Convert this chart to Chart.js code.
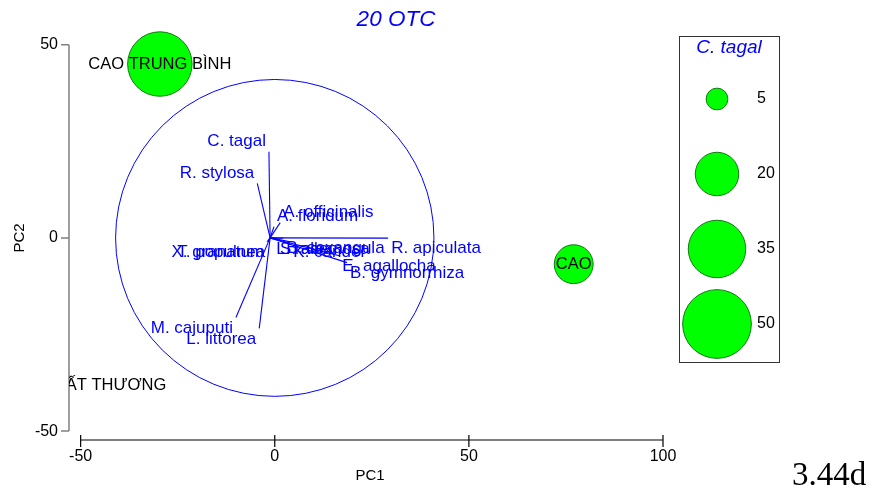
<!DOCTYPE html>
<html>
<head>
<meta charset="utf-8">
<script src="https://cdn.jsdelivr.net/npm/chart.js@4"></script>
<style>
  body { margin: 0; background: #fff; }
</style>
</head>
<body>
<canvas id="pcaChart" width="873" height="494"></canvas>
<script>
const chartTitle = '20 OTC';
const sizeVariable = 'C. tagal';
const cornerNote = '3.44d';

// site groups (bubble = C. tagal abundance)
const groupLabels = ['CAO TRUNG BÌNH', 'CAO', 'BẤT THƯƠNG'];
const groupPC1 = [-29.6, 77.0, -42.3];
const groupPC2 = [45.0, -6.8, -38.1];
const groupTagal = [44, 16, 0];

const legendSizes = [5, 20, 35, 50];

// species vectors (drawn from the vector origin)
const vectorOrigin = [-1.2, 0];
const speciesNames = ['C. tagal', 'R. stylosa', 'A. floridum', 'A. officinalis', 'R. apiculata',
    'E. agallocha', 'B. gymnorrhiza', 'L. racemosa', 'S. alba', 'K. candel', 'B. sexangula',
    'M. cajuputi', 'L. littorea', 'T. populnea', 'X. granatum'];
const speciesPC1 = [-0.3, -3.3, 1.0, 2.6, 30.4, 17.8, 19.8, 0.8, 1.8, 5.2, 3.4, -8.8, -2.8, -0.5, -0.8];
const speciesPC2 = [22.3, 14.1, 2.9, 3.95, -0.05, -4.6, -6.4, -0.2, -0.2, -1.0, -0.1, -20.6, -23.4, -1.0, -1.0];

const xTicks = [-50, 0, 50, 100];
const yTicks = [-50, 0, 50];
const circleRadius = 41;

const blue = '#0000ff';
const fontName = "'Liberation Sans', Arial, sans-serif";

function bubbleRadius(v) {
    return 4.86 * Math.sqrt(v);
}

let datasets = [];
datasets.push({
    type: 'bubble',
    data: groupLabels.map(function(l, i) {
        return {x: groupPC1[i], y: groupPC2[i], r: bubbleRadius(groupTagal[i])};
    }),
    backgroundColor: '#00ff00',
    borderColor: '#107a10',
    borderWidth: 1,
    clip: false,
});
speciesNames.forEach(function(name, i) {
    datasets.push({
        type: 'scatter',
        data: [
            {x: vectorOrigin[0], y: vectorOrigin[1]},
            {x: vectorOrigin[0] + speciesPC1[i], y: vectorOrigin[1] + speciesPC2[i]}
        ],
        showLine: true,
        borderColor: blue,
        borderWidth: 1.1,
        pointRadius: 0,
        clip: false,
    });
});

const overlay = {
    id: 'overlay',
    beforeDatasetsDraw(chart) {
        const ctx = chart.ctx;
        const x = chart.scales.x, y = chart.scales.y;
        const area = chart.chartArea;
        ctx.save();

        // correlation circle
        const cx = x.getPixelForValue(0), cy = y.getPixelForValue(0);
        const rx = x.getPixelForValue(circleRadius) - cx;
        const ry = cy - y.getPixelForValue(circleRadius);
        ctx.strokeStyle = blue;
        ctx.lineWidth = 1;
        ctx.beginPath();
        ctx.ellipse(cx, cy, rx, ry, 0, 0, 2 * Math.PI);
        ctx.stroke();

        // y axis
        ctx.strokeStyle = '#808080';
        ctx.lineWidth = 1.5;
        ctx.beginPath();
        ctx.moveTo(area.left, y.getPixelForValue(yTicks[yTicks.length - 1]));
        ctx.lineTo(area.left, y.getPixelForValue(yTicks[0]));
        yTicks.forEach(function(t) {
            const py = y.getPixelForValue(t);
            ctx.moveTo(area.left - 8, py);
            ctx.lineTo(area.left, py);
        });
        ctx.stroke();
        ctx.fillStyle = '#000';
        ctx.font = '16px ' + fontName;
        ctx.textAlign = 'right';
        ctx.textBaseline = 'middle';
        yTicks.forEach(function(t) {
            ctx.fillText(String(t), area.left - 11, y.getPixelForValue(t));
        });

        // x axis
        ctx.strokeStyle = '#000';
        ctx.lineWidth = 1.2;
        ctx.beginPath();
        ctx.moveTo(x.getPixelForValue(xTicks[0]), area.bottom);
        ctx.lineTo(x.getPixelForValue(xTicks[xTicks.length - 1]), area.bottom);
        xTicks.forEach(function(t) {
            const px = x.getPixelForValue(t);
            ctx.moveTo(px, area.bottom - 5);
            ctx.lineTo(px, area.bottom + 7);
        });
        ctx.stroke();
        ctx.textAlign = 'center';
        xTicks.forEach(function(t) {
            ctx.fillText(String(t), x.getPixelForValue(t), area.bottom + 17);
        });

        // axis titles
        ctx.font = '15px ' + fontName;
        ctx.fillText('PC1', 370, 476);
        ctx.save();
        ctx.translate(20, y.getPixelForValue(0));
        ctx.rotate(-Math.PI / 2);
        ctx.fillText('PC2', 0, 0);
        ctx.restore();

        // title
        ctx.fillStyle = blue;
        ctx.font = 'italic 22.5px ' + fontName;
        ctx.fillText(chartTitle, 396, 20);
        ctx.restore();
    },
    afterDatasetsDraw(chart) {
        const ctx = chart.ctx;
        const x = chart.scales.x, y = chart.scales.y;
        const area = chart.chartArea;
        ctx.save();

        // group labels, clipped at the y axis
        ctx.save();
        ctx.beginPath();
        ctx.rect(area.left, 0, chart.width - area.left, chart.height);
        ctx.clip();
        ctx.fillStyle = '#000';
        ctx.font = '16.5px ' + fontName;
        ctx.textAlign = 'center';
        ctx.textBaseline = 'middle';
        groupLabels.forEach(function(l, i) {
            ctx.fillText(l, x.getPixelForValue(groupPC1[i]), y.getPixelForValue(groupPC2[i]));
        });
        ctx.restore();

        // species labels at vector tips
        ctx.fillStyle = blue;
        ctx.font = '17px ' + fontName;
        ctx.textBaseline = 'middle';
        speciesNames.forEach(function(name, i) {
            const px = x.getPixelForValue(vectorOrigin[0] + speciesPC1[i]);
            const py = y.getPixelForValue(vectorOrigin[1] + speciesPC2[i]);
            ctx.textAlign = speciesPC1[i] < 0 ? 'right' : 'left';
            const dx = speciesPC1[i] < 0 ? -3 : 3;
            const dy = speciesPC2[i] > 0 ? -10.5 : 10.5;
            ctx.fillText(name, px + dx, py + dy);
        });

        // size legend
        ctx.strokeStyle = '#333';
        ctx.lineWidth = 1;
        ctx.strokeRect(679.5, 36.5, 100, 326);
        ctx.font = 'italic 19px ' + fontName;
        ctx.textAlign = 'center';
        ctx.fillText(sizeVariable, 729, 48);
        ctx.font = '16px ' + fontName;
        legendSizes.forEach(function(v, i) {
            const cy = 99 + i * 75;
            ctx.beginPath();
            ctx.arc(717, cy, bubbleRadius(v), 0, 2 * Math.PI);
            ctx.fillStyle = '#00ff00';
            ctx.fill();
            ctx.strokeStyle = '#107a10';
            ctx.stroke();
            ctx.fillStyle = '#000';
            ctx.textAlign = 'left';
            ctx.fillText(String(v), 757, cy);
        });

        ctx.font = '33px "Liberation Serif", "Times New Roman", serif';
        ctx.textBaseline = 'alphabetic';
        ctx.textAlign = 'left';
        ctx.fillText(cornerNote, 792, 485);
        ctx.restore();
    }
};

new Chart(document.getElementById('pcaChart'), {
    type: 'bubble',
    data: {datasets: datasets},
    options: {
        responsive: false,
        animation: false,
        devicePixelRatio: 1,
        layout: {padding: {left: 69, right: 210, top: 44.7, bottom: 54}},
        scales: {
            x: {type: 'linear', min: -53, max: 100, display: false},
            y: {type: 'linear', min: -52.3, max: 50, display: false},
        },
        plugins: {
            legend: {display: false},
            tooltip: {enabled: false},
        }
    },
    plugins: [overlay]
});
</script>
</body>
</html>
